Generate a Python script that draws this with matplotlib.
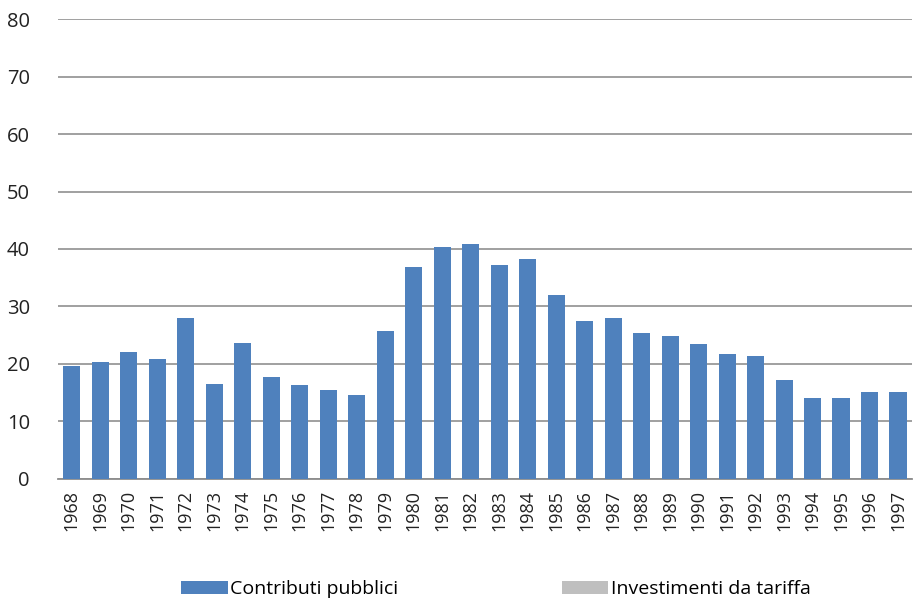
import matplotlib
matplotlib.use('Agg')
import matplotlib.pyplot as plt
import numpy as np

# Annual investment data, 1968-1997
years = [str(y) for y in range(1968, 1998)]
contributi_pubblici = [19.6, 20.3, 22.0, 20.8, 28.0, 16.6, 23.7, 17.7, 16.3, 15.4,
                       14.6, 25.7, 36.9, 40.3, 40.9, 37.2, 38.3, 32.0, 27.5, 28.0,
                       25.4, 24.9, 23.5, 21.7, 21.4, 17.2, 14.0, 14.0, 15.1, 15.1]
investimenti_tariffa = [0.0] * len(years)
y_ticks = [0, 10, 20, 30, 40, 50, 60, 70, 80]

plt.rcParams['font.family'] = ['Open Sans', 'DejaVu Sans']

fig = plt.figure(figsize=(9.15, 6.0), dpi=100)
ax = fig.add_axes([0.063, 0.2017, 0.934, 0.7666])

x = np.arange(len(years))
ax.bar(x, contributi_pubblici, width=0.6, color='#4F81BD', zorder=3,
       label='Contributi pubblici')
ax.bar(x, investimenti_tariffa, width=0.6, bottom=contributi_pubblici,
       color='#BFBFBF', zorder=3, label='Investimenti da tariffa')

ax.set_xlim(-0.5, len(years) - 0.5)
ax.set_ylim(0, 80)
ax.set_yticks(y_ticks)
ax.set_yticklabels([str(t) for t in y_ticks], fontsize=14.5, color='#222222')
ax.set_xticks(x)
ax.set_xticklabels(years, rotation=90, fontsize=13, color='#222222')
ax.tick_params(axis='both', length=0)
ax.tick_params(axis='y', pad=20)
ax.tick_params(axis='x', pad=8)

ax.grid(axis='y', color='#999999', linewidth=1.3, zorder=0)
for side in ['top', 'right', 'left']:
    ax.spines[side].set_visible(False)
ax.spines['bottom'].set_color('#8C8C8C')
ax.spines['bottom'].set_linewidth(1.3)

fig.legend(loc='center', bbox_to_anchor=(0.542, 0.018), ncol=2, frameon=False,
           fontsize=14, handlelength=2.4, handleheight=0.6,
           handletextpad=0.12, columnspacing=8.4)

fig.savefig('out.png', dpi=100)
